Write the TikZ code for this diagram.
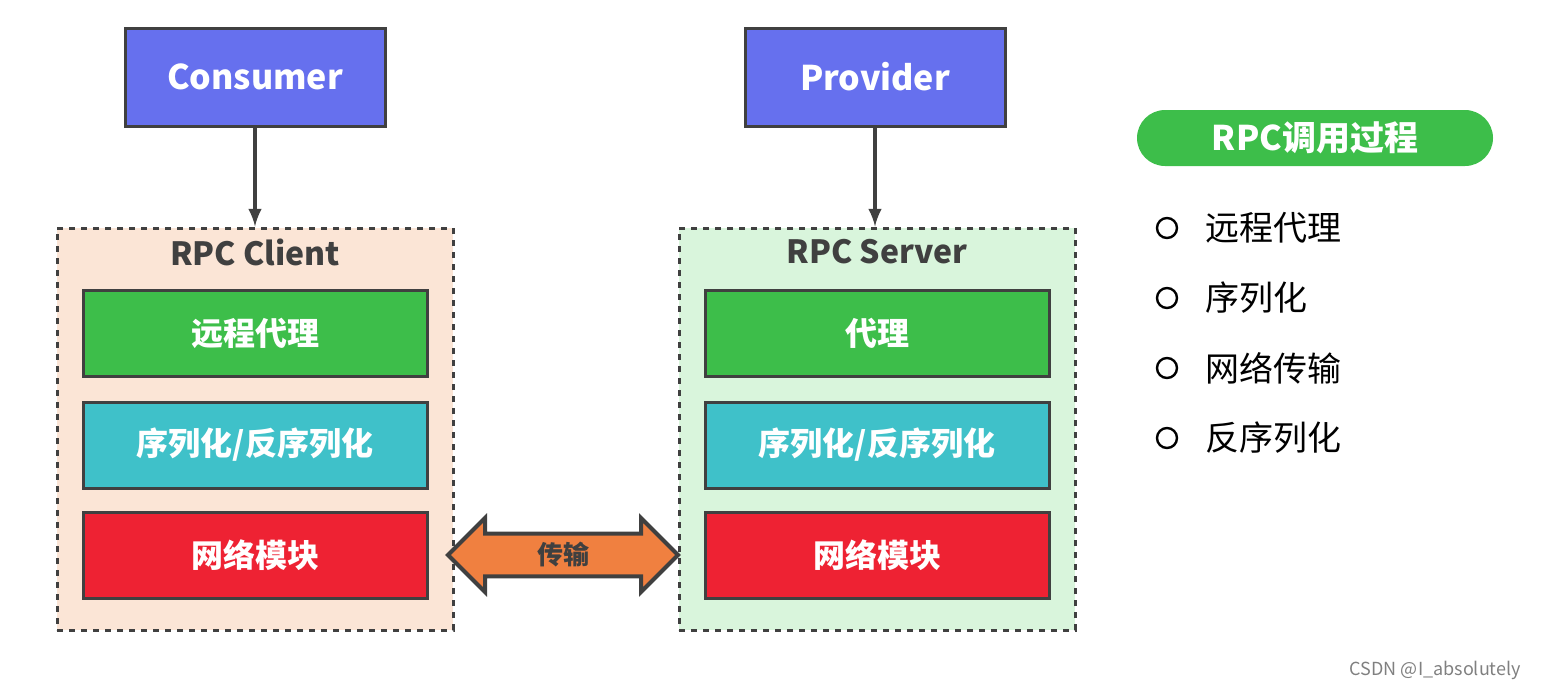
\documentclass[tikz,border=0pt]{standalone}
\usepackage{fontspec}
\setmainfont{Noto Sans CJK SC}
\usetikzlibrary{positioning,shapes.arrows}
\definecolor{topblue}{HTML}{6670EE}
\definecolor{proxygreen}{HTML}{3DBE4A}
\definecolor{sercyan}{HTML}{3FC1C9}
\definecolor{netred}{HTML}{EE2233}
\definecolor{clientbg}{HTML}{FBE5D6}
\definecolor{serverbg}{HTML}{D9F5DC}
\definecolor{pipeorange}{HTML}{F08040}
\definecolor{edgegray}{HTML}{404040}
\begin{document}
\begin{tikzpicture}[x=0.5pt,y=-0.5pt,
  role/.style={draw=edgegray,line width=1.5pt,fill=topblue,minimum width=130pt,minimum height=49pt,text=white,font=\fontsize{17}{17}\selectfont\bfseries},
  group/.style={draw=edgegray,dashed,line width=1.5pt,minimum width=198pt,minimum height=201pt},
  layer/.style={draw=edgegray,line width=1.5pt,minimum width=172pt,minimum height=43pt,text=white,font=\fontsize{16}{16}\selectfont\bfseries},
  item/.style={font=\fontsize{17}{17}\selectfont,anchor=west}]
\useasboundingbox (0,0) rectangle (1542,692);
% top roles
\node[role] (consumer) at (255,77) {Consumer};
\node[role] (provider) at (875,77) {Provider};
% client and server
\node[group,fill=clientbg] (client) at (255,429) {};
\node[group,fill=serverbg] (server) at (877,429) {};
\node[font=\fontsize{16}{16}\selectfont\bfseries,text=edgegray] (clienttitle) at (255,252) {RPC Client};
\node[font=\fontsize{16}{16}\selectfont\bfseries,text=edgegray] (servertitle) at (877,252) {RPC Server};
\node[layer,fill=proxygreen] (cproxy) at (255,333) {远程代理};
\node[layer,fill=sercyan] (cser) at (255,445) {序列化/反序列化};
\node[layer,fill=netred] (cnet) at (255,555) {网络模块};
\node[layer,fill=proxygreen] (sproxy) at (877,333) {代理};
\node[layer,fill=sercyan] (sser) at (877,445) {序列化/反序列化};
\node[layer,fill=netred] (snet) at (877,555) {网络模块};
% calls
\draw[-latex,line width=2pt,edgegray] (consumer) -- (client.north -| consumer);
\draw[-latex,line width=2pt,edgegray] (provider) -- (server.north -| provider);
% transport
\node[double arrow,draw=edgegray,line width=2pt,fill=pipeorange,minimum width=37pt,minimum height=115pt,double arrow head extend=6pt,inner sep=1pt,font=\fontsize{13}{13}\selectfont\bfseries,text=edgegray] (pipe) at (563,555) {传输};
% legend
\node[fill=proxygreen,rounded corners=14pt,minimum width=178pt,minimum height=28pt,text=white,font=\fontsize{17}{17}\selectfont\bfseries] (legend) at (1315,138) {RPC调用过程};
\foreach \t [count=\i] in {远程代理,序列化,网络传输,反序列化}{
  \node[circle,draw=black,line width=1.2pt,minimum size=10pt,inner sep=0pt] (dot\i) at (1167,158+70*\i) {};
  \node[item,right=10pt of dot\i] (step\i) {\t};
}
\node[font=\fontsize{9}{9}\selectfont,text=gray,anchor=east] (mark) at (1528,670) {CSDN @I\_absolutely};
\end{tikzpicture}
\end{document}
